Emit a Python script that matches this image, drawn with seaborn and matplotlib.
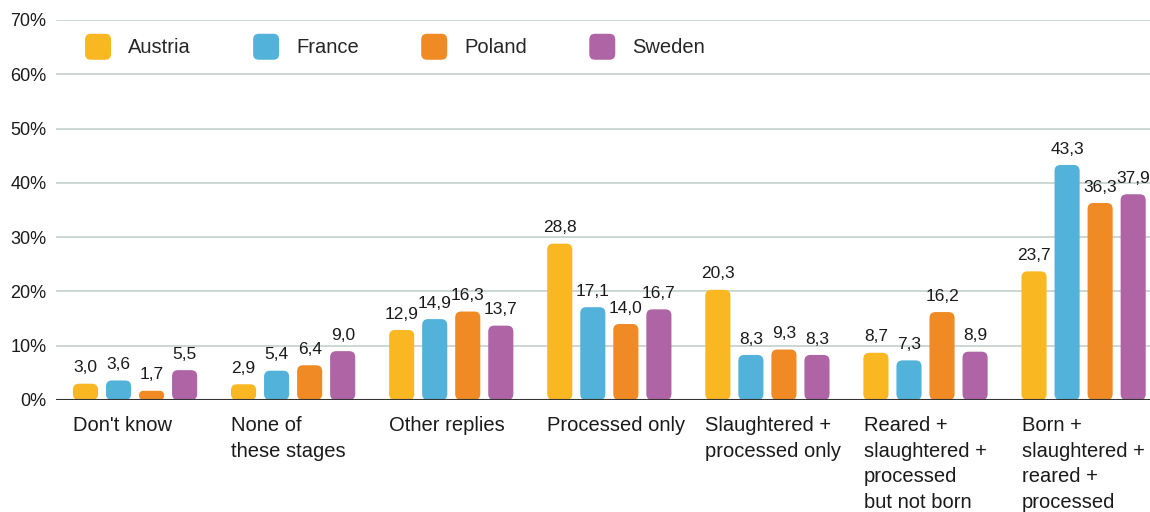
import numpy as np
import pandas as pd
import matplotlib
matplotlib.use("Agg")
import matplotlib.pyplot as plt
import seaborn as sns
from matplotlib.patches import FancyBboxPatch, Patch
from matplotlib.legend_handler import HandlerPatch
from matplotlib.transforms import ScaledTranslation

categories = [
    "Don't know",
    "None of\nthese stages",
    "Other replies",
    "Processed only",
    "Slaughtered +\nprocessed only",
    "Reared +\nslaughtered +\nprocessed\nbut not born",
    "Born +\nslaughtered +\nreared +\nprocessed",
]
countries = ["Austria", "France", "Poland", "Sweden"]
austria = [3.0, 2.9, 12.9, 28.8, 20.3, 8.7, 23.7]
france = [3.6, 5.4, 14.9, 17.1, 8.3, 7.3, 43.3]
poland = [1.7, 6.4, 16.3, 14.0, 9.3, 16.2, 36.3]
sweden = [5.5, 9.0, 13.7, 16.7, 8.3, 8.9, 37.9]
y_ticks = [0, 10, 20, 30, 40, 50, 60, 70]

colors = ["#F9B722", "#52B2D9", "#F08A24", "#AE64A5"]

series = {"Austria": austria, "France": france, "Poland": poland, "Sweden": sweden}
df = pd.DataFrame(
    [(cat, c, v) for c in countries for cat, v in zip(categories, series[c])],
    columns=["category", "country", "value"],
)

sns.set_theme(style="white")
plt.rcParams["font.family"] = ["Liberation Sans", "DejaVu Sans"]

W, H, DPI = 1150, 512, 100
fig = plt.figure(figsize=(W / DPI, H / DPI), dpi=DPI)
ax = fig.add_axes([56 / W, 112 / H, (W - 56) / W, 380 / H])

sns.barplot(
    data=df, x="category", y="value", hue="country", palette=colors,
    order=categories, hue_order=countries, width=0.836, gap=0.24,
    ax=ax, legend=False, errorbar=None, saturation=1,
)

ax.set_xlim(-0.5, 6.42)
ax.set_ylim(0, 70)

# pixel scale of data units for rounded corners
x_per_px = (6.42 + 0.5) / (W - 56)
y_per_px = 70 / 380
aspect = y_per_px / x_per_px

bars = list(ax.patches)
for b in bars:
    x0, w, h = b.get_x(), b.get_width(), b.get_height()
    fc = b.get_facecolor()
    b.remove()
    w_px, h_px = w / x_per_px, h / y_per_px
    r_px = min(6.0, w_px / 2, h_px / 2)
    fb = FancyBboxPatch(
        (x0, 0), w, h,
        boxstyle=f"round,pad=0,rounding_size={r_px * x_per_px}",
        mutation_aspect=aspect, facecolor=fc, edgecolor="none", zorder=3,
    )
    ax.add_patch(fb)

# value labels above each bar
for c_idx, c in enumerate(countries):
    vals = series[c]
    n = len(countries)
    step = 0.836 / n
    for i, v in enumerate(vals):
        xc = i - 0.836 / 2 + step * (c_idx + 0.5)
        ax.annotate(
            f"{v:.1f}".replace(".", ","), (xc, v), xytext=(0, 6),
            textcoords="offset points", ha="center", va="bottom",
            fontsize=12.5, color="#1a1a1a", zorder=4,
        )

# axes styling
for s in ax.spines.values():
    s.set_visible(False)
ax.set_yticks(y_ticks)
ax.set_yticklabels([f"{t}%" for t in y_ticks])
ax.yaxis.grid(True, color="#C9D4CF", linewidth=1.3, zorder=0)
ax.set_axisbelow(True)
ax.axhline(0, color="#333333", linewidth=1.5, zorder=5)
ax.tick_params(axis="y", length=0, pad=7, labelsize=13, labelcolor="#1a1a1a")
ax.tick_params(axis="x", length=0, pad=11.5, labelsize=14.5, labelcolor="#1a1a1a")
ax.set_xlabel("")
ax.set_ylabel("")

shift = ScaledTranslation(-62 / DPI, 0, fig.dpi_scale_trans)
for lab in ax.get_xticklabels():
    lab.set_horizontalalignment("left")
    lab.set_verticalalignment("top")
    lab.set_linespacing(1.45)
    lab.set_transform(lab.get_transform() + shift)


class RoundHandler(HandlerPatch):
    def create_artists(self, legend, orig_handle, xdescent, ydescent,
                       width, height, fontsize, trans):
        side = min(width, height)
        p = FancyBboxPatch(
            (-xdescent, -ydescent + (height - side) / 2),
            side, side, boxstyle=f"round,pad=0,rounding_size={side * 0.22}",
            facecolor=orig_handle.get_facecolor(), edgecolor="none",
            transform=trans,
        )
        return [p]


handles = [Patch(facecolor=col, label=c) for c, col in zip(countries, colors)]
ax.legend(
    handles=handles, loc="upper left", bbox_to_anchor=(21 / (W - 56), 0.985),
    ncol=4, frameon=False, fontsize=14.5, handlelength=1.29, handleheight=1.61,
    handletextpad=0.84, columnspacing=3.1, borderaxespad=0,
    handler_map={Patch: RoundHandler()},
)

fig.savefig("out.png", dpi=DPI)
